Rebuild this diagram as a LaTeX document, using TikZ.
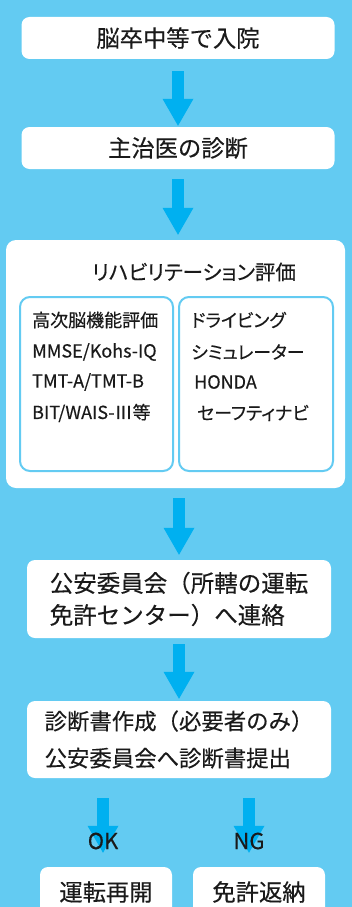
\documentclass[tikz,border=0pt]{standalone}
\usepackage{fontspec}
\setmainfont{Noto Sans CJK JP}[FakeBold=0.3]
\newfontfamily\pfont[RawFeature=+palt,FakeBold=0.3]{Noto Sans CJK JP}
\usetikzlibrary{arrows.meta}
\definecolor{bgblue}{RGB}{99,203,242}
\definecolor{arrblue}{RGB}{0,176,240}
\definecolor{ink}{RGB}{26,26,26}
\begin{document}
\begin{tikzpicture}[x=1pt,y=-1pt,
  box/.style={fill=white, rounded corners=8pt, inner sep=0pt, text=ink,
    font=\fontsize{23.3}{32}\selectfont},
  inbox/.style={draw=bgblue, line width=2pt, fill=white, rounded corners=10pt, inner sep=0pt},
  intext/.style={anchor=west, inner sep=0pt, text=ink, font=\pfont\fontsize{18}{20}\selectfont},
  lab/.style={inner sep=0pt, text=ink, font=\fontsize{22}{22}\selectfont},
  arr/.style={draw=arrblue, line width=12pt,
    -{Triangle[length=27pt,width=31pt,line width=0pt]}}
]
\useasboundingbox (0,0) rectangle (352,907);
\clip (0,0) rectangle (352,907);
\fill[bgblue] (0,0) rectangle (352,907);

% main boxes
\node[box, minimum width=313pt, minimum height=42pt] (b1) at (178,38) {脳卒中等で入院};
\node[box, minimum width=313pt, minimum height=42pt] (b2) at (178,148) {主治医の診断};
\node[box, rounded corners=10pt, minimum width=339pt, minimum height=248pt] (b3) at (175.5,364) {};
\node[inner sep=0pt, text=ink, font=\pfont\fontsize{20.5}{22}\selectfont] (title) at (194,272) {リハビリテーション評価};
\node[inbox, minimum width=153pt, minimum height=174pt] (il) at (96.5,384) {};
\node[inbox, minimum width=154pt, minimum height=174pt] (ir) at (256,384) {};

\node[intext] (l1) at (32,320) {高次脳機能評価};
\node[intext] (l2) at (32,352) {MMSE/Kohs-IQ};
\node[intext] (l3) at (32,382) {TMT-A/TMT-B};
\node[intext] (l4) at (32,413) {BIT/WAIS-Ⅲ等};
\node[intext] (r1) at (191,320) {ドライビング};
\node[intext] (r2) at (191,352) {シミュレーター};
\node[intext] (r3) at (194,382) {HONDA};
\node[intext] (r4) at (197,413) {セーフティナビ};

\node[box, minimum width=304pt, minimum height=78pt, align=left,
  font=\fontsize{23.5}{32}\selectfont] (b4) at (179,599)
  {公安委員会（所轄の運転\\免許センター）へ連絡};
\node[box, minimum width=304pt, minimum height=77pt, align=left,
  font=\fontsize{22.4}{37}\selectfont] (b5) at (179,739.5)
  {診断書作成（必要者のみ）\\公安委員会へ診断書提出};

\node[box, minimum width=132pt, minimum height=50pt] (ok) at (106,892) {運転再開};
\node[box, minimum width=132pt, minimum height=50pt] (ng) at (259,892) {免許返納};

% connectors
\draw[arr, shorten <=12pt, shorten >=1pt] (b1.south) -- (b2.north);
\draw[arr, shorten <=10pt, shorten >=5pt] (b2.south) -- (b2.south |- b3.north);
\draw[arr, shorten <=10pt, shorten >=5pt] (b4.north |- b3.south) -- (b4.north);
\draw[arr, shorten <=6pt, shorten >=2pt] (b4.south) -- (b5.north);

\coordinate (okx) at (103,841);
\coordinate (ngx) at (249,841);
\draw[arr, shorten <=20pt, shorten >=14pt] (b5.south -| okx) -- (okx |- ok.north);
\draw[arr, shorten <=20pt, shorten >=14pt] (b5.south -| ngx) -- (ngx |- ng.north);
\node[lab] (oklab) at (okx) {OK};
\node[lab] (nglab) at (ngx) {NG};
\end{tikzpicture}
\end{document}
